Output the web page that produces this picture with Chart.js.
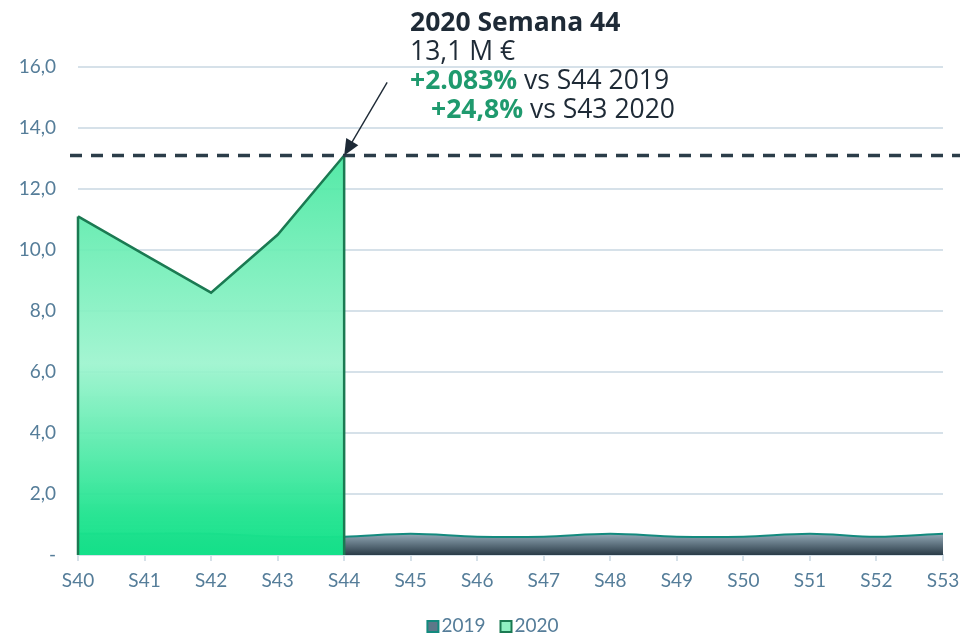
<!DOCTYPE html>
<html>
<head>
<meta charset="utf-8">
<script src="https://cdn.jsdelivr.net/npm/chart.js@4/dist/chart.umd.min.js"></script>
<style>
  html, body { margin: 0; padding: 0; background: #fff; }
  #wrap { width: 964px; height: 633px; }
</style>
</head>
<body>
<div id="wrap"><canvas id="myChart" width="964" height="633"></canvas></div>
<script>
// semanas
var weeks = ['S40','S41','S42','S43','S44','S45','S46','S47','S48','S49','S50','S51','S52','S53'];
// ventas en millones de euros
var values2019 = [0.7, 0.7, 0.7, 0.6, 0.6, 0.7, 0.6, 0.6, 0.7, 0.6, 0.6, 0.7, 0.6, 0.7];
var values2020 = [11.1, 9.85, 8.6, 10.5, 13.1, null, null, null, null, null, null, null, null, null];
var yTicks = [0, 2, 4, 6, 8, 10, 12, 14, 16];
var refValue = 13.1;
var refIndex = 4;
var noteLines = ['2020 Semana 44', '13,1 M €', ['+2.083%', ' vs S44 2019'], ['+24,8%', ' vs S43 2020']];

var axisColor = '#557d99';
var gridColor = '#d6e1e9';

function fmt(v) {
    if (v === 0) return '-';
    return v.toFixed(1).replace('.', ',');
}

// relleno degradado 2020 (algo transparente, deja ver la rejilla)
function grad2020(context) {
    var chart = context.chart;
    var area = chart.chartArea;
    if (!area) return '#7fefbd';
    var y = chart.scales.y;
    var g = chart.ctx.createLinearGradient(0, y.getPixelForValue(refValue), 0, y.getPixelForValue(0));
    g.addColorStop(0, 'rgba(70, 232, 160, 0.92)');
    g.addColorStop(0.52, 'rgba(156, 244, 206, 0.92)');
    g.addColorStop(0.9, 'rgba(30, 227, 142, 0.95)');
    g.addColorStop(1, 'rgba(20, 226, 138, 0.99)');
    return g;
}

function grad2019(context) {
    var chart = context.chart;
    var area = chart.chartArea;
    if (!area) return '#5a7585';
    var y = chart.scales.y;
    var g = chart.ctx.createLinearGradient(0, y.getPixelForValue(0.7), 0, y.getPixelForValue(0));
    g.addColorStop(0, '#94aab8');
    g.addColorStop(1, '#2a3b47');
    return g;
}

// línea de referencia, bordes verticales, flecha, texto y leyenda
var notePlugin = {
    id: 'notePlugin',
    afterDatasetsDraw: function (chart) {
        var ctx = chart.ctx;
        var x = chart.scales.x, y = chart.scales.y;
        var y0 = y.getPixelForValue(0);

        // bordes verticales del área 2020
        var first = 0, last = 0;
        values2020.forEach(function (v, i) { if (v !== null) last = i; });
        ctx.save();
        ctx.strokeStyle = '#1b7a52';
        ctx.lineWidth = 2.5;
        [first, last].forEach(function (i) {
            var px = x.getPixelForValue(i);
            ctx.beginPath();
            ctx.moveTo(px, y.getPixelForValue(values2020[i]));
            ctx.lineTo(px, y0);
            ctx.stroke();
        });
        ctx.restore();

        // línea discontinua
        var yr = y.getPixelForValue(refValue);
        ctx.save();
        ctx.strokeStyle = '#2b3d49';
        ctx.lineWidth = 3.5;
        ctx.setLineDash([12, 9]);
        ctx.beginPath();
        ctx.moveTo(chart.chartArea.left - 8, yr);
        ctx.lineTo(chart.width - 4, yr);
        ctx.stroke();
        ctx.restore();

        // flecha
        var tx = x.getPixelForValue(refIndex), ty = yr;
        var sx = tx + 43, sy = ty - 73;
        var ang = Math.atan2(ty - sy, tx - sx);
        ctx.save();
        ctx.strokeStyle = '#1e2a36';
        ctx.fillStyle = '#1e2a36';
        ctx.lineWidth = 1.4;
        ctx.beginPath();
        ctx.moveTo(sx, sy);
        ctx.lineTo(tx - 12 * Math.cos(ang), ty - 12 * Math.sin(ang));
        ctx.stroke();
        ctx.beginPath();
        ctx.moveTo(tx, ty);
        ctx.lineTo(tx - 16 * Math.cos(ang) + 7 * Math.sin(ang), ty - 16 * Math.sin(ang) - 7 * Math.cos(ang));
        ctx.lineTo(tx - 16 * Math.cos(ang) - 7 * Math.sin(ang), ty - 16 * Math.sin(ang) + 7 * Math.cos(ang));
        ctx.closePath();
        ctx.fill();
        ctx.restore();

        // texto
        ctx.save();
        ctx.textBaseline = 'middle';
        ctx.textAlign = 'left';
        var lx = 410;
        ctx.fillStyle = '#1e2a36';
        ctx.font = 'bold 26.5px "Open Sans"';
        ctx.fillText(noteLines[0], lx, 23);
        ctx.font = '26.5px "Open Sans"';
        ctx.fillText(noteLines[1], lx, 52);
        var rows = [[noteLines[2], lx, 81], [noteLines[3], lx + 21, 110]];
        rows.forEach(function (r) {
            ctx.font = 'bold 26.5px "Open Sans"';
            ctx.fillStyle = '#1f9a6e';
            ctx.fillText(r[0][0], r[1], r[2]);
            var w = ctx.measureText(r[0][0]).width;
            ctx.font = '26.5px "Open Sans"';
            ctx.fillStyle = '#1e2a36';
            ctx.fillText(r[0][1], r[1] + w, r[2]);
        });
        ctx.restore();

        // leyenda
        var items = [
            { text: chart.data.datasets[0].label, fill: '#5d7889', stroke: '#138a7e' },
            { text: chart.data.datasets[1].label, fill: '#8ef0c2', stroke: '#1b7a52' }
        ];
        ctx.save();
        ctx.font = '19px Lato';
        ctx.textBaseline = 'middle';
        var widths = items.map(function (it) { return 11 + 3 + ctx.measureText(it.text).width; });
        var total = widths[0] + widths[1] + 15;
        var lxStart = chart.width / 2 + 11 - total / 2;
        var ly = 626;
        items.forEach(function (it, i) {
            ctx.fillStyle = it.fill;
            ctx.fillRect(lxStart, ly - 5, 11, 11);
            ctx.strokeStyle = it.stroke;
            ctx.lineWidth = 2;
            ctx.strokeRect(lxStart, ly - 5, 11, 11);
            ctx.fillStyle = axisColor;
            ctx.fillText(it.text, lxStart + 14, ly);
            lxStart += widths[i] + 15;
        });
        ctx.restore();
    }
};

var ctx = document.getElementById('myChart').getContext('2d');
var myChart = new Chart(ctx, {
    type: 'line',
    data: {
        labels: weeks,
        datasets: [{
            label: '2019',
            data: values2019,
            borderColor: '#138a7e',
            borderWidth: 2,
            backgroundColor: grad2019,
            fill: 'origin',
            tension: 0.35,
            pointRadius: 0,
            order: 2
        }, {
            label: '2020',
            data: values2020,
            borderColor: '#1b7a52',
            borderWidth: 2.5,
            backgroundColor: grad2020,
            fill: 'origin',
            tension: 0,
            pointRadius: 0,
            spanGaps: false,
            order: 1
        }]
    },
    options: {
        responsive: false,
        animation: false,
        layout: { padding: { left: 0, right: 21, top: 6, bottom: 41 } },
        scales: {
            x: {
                offset: false,
                afterFit: function (scale) {
                    scale.height = 37;
                    scale.paddingLeft = 0;
                    scale.paddingRight = 0;
                },
                grid: { drawOnChartArea: false, drawTicks: true, tickLength: 6, color: gridColor, lineWidth: 2 },
                border: { display: true, color: gridColor, width: 2 },
                ticks: { color: axisColor, font: { family: 'Lato', size: 19 }, padding: 8, maxRotation: 0 }
            },
            y: {
                min: 0,
                max: 18,
                afterFit: function (scale) {
                    scale.width = 78;
                    scale.paddingTop = 0;
                    scale.paddingBottom = 0;
                },
                afterBuildTicks: function (scale) {
                    scale.ticks = yTicks.map(function (v) { return { value: v }; });
                },
                grid: {
                    drawTicks: false,
                    lineWidth: 2,
                    color: function (c) { return (c.tick && c.tick.value === 0) ? 'rgba(0,0,0,0)' : gridColor; }
                },
                border: { display: false },
                ticks: {
                    color: axisColor,
                    font: { family: 'Lato', size: 19 },
                    padding: 22,
                    callback: function (v) { return fmt(v); }
                }
            }
        },
        plugins: {
            tooltip: { enabled: false },
            legend: { display: false }
        }
    },
    plugins: [notePlugin]
});
</script>
</body>
</html>
